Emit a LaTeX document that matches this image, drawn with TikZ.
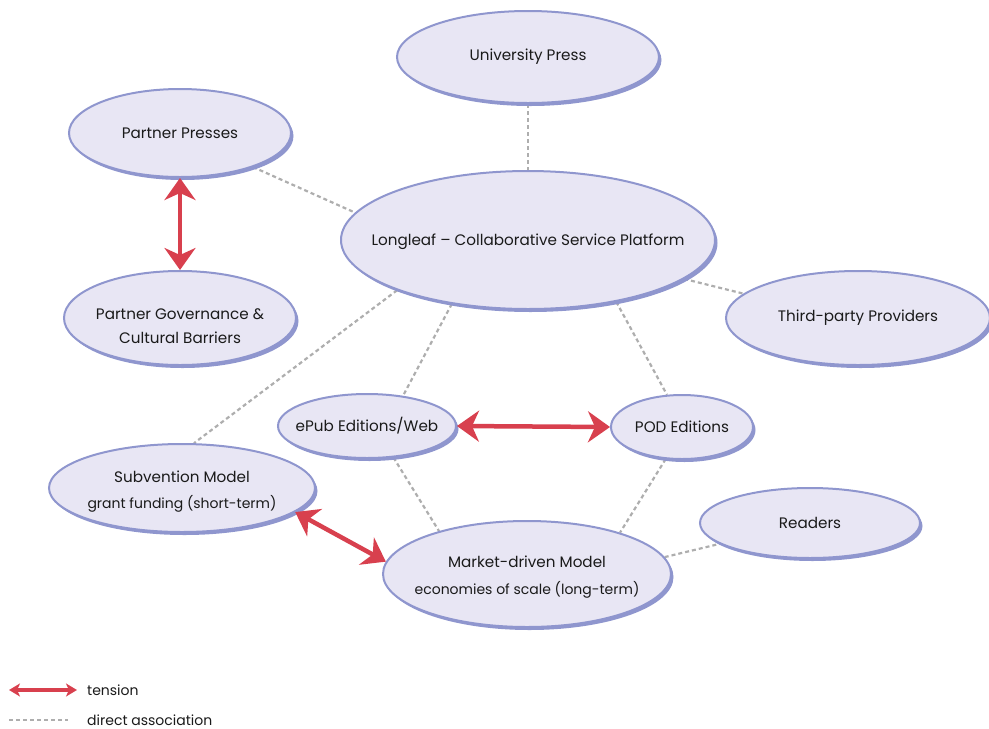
\documentclass[tikz,border=0pt]{standalone}
\usepackage{fontspec}
\setmainfont{Poppins}
\usetikzlibrary{shapes.geometric, arrows.meta, shadows, backgrounds}
\definecolor{ovalfill}{HTML}{E8E6F4}
\definecolor{ovalrim}{HTML}{8F96CE}
\definecolor{tensionred}{HTML}{D8404E}
\definecolor{linkgray}{HTML}{AEAEAE}
\definecolor{textblack}{HTML}{1A1A1A}
\newcommand*\ovalsub[1]{{\fontsize{14}{17}\selectfont #1}}
\tikzset{
  oval/.style={ellipse, fill=ovalfill, draw=ovalrim, line width=2pt, inner sep=0pt,
    drop shadow={shadow xshift=2.5pt, shadow yshift=-3pt, fill=ovalrim, opacity=1}},
  ovallabel/.style={text=textblack, align=center, inner sep=0pt,
    font=\fontsize{15.2}{18}\selectfont},
  tensionarrow/.style={tensionred, line width=4.5pt,
    {Stealth[length=22pt, width=31pt, inset=7pt]}-{Stealth[length=22pt, width=31pt, inset=7pt]}},
  smalltension/.style={tensionred, line width=4pt,
    {Stealth[length=11pt, width=13pt, inset=3pt]}-{Stealth[length=11pt, width=13pt, inset=3pt]}},
  link/.style={linkgray, line width=2.2pt, dash pattern=on 4pt off 3pt},
}

\begin{document}
\begin{tikzpicture}[x=1pt, y=-1pt]
    \useasboundingbox (0,0) rectangle (989,729);
    \coordinate (posUniv) at (528,57);
    \coordinate (posPresses) at (180,133);
    \coordinate (posLongleaf) at (528,240);
    \coordinate (posGovern) at (180,318);
    \coordinate (posThird) at (858,318);
    \coordinate (posEpub) at (367,426);
    \coordinate (posPod) at (682,427);
    \coordinate (posSubv) at (182,488);
    \coordinate (posReaders) at (810,523);
    \coordinate (posMarket) at (527,574);
    %
    \node[oval, minimum width=262pt, minimum height=92pt, label={[ovallabel]center:University Press}] at (posUniv) (univ) {};
    \node[oval, minimum width=222pt, minimum height=88pt, label={[ovallabel]center:Partner Presses}] at (posPresses) (presses) {};
    \node[oval, minimum width=374pt, minimum height=138pt, label={[ovallabel, yshift=-1.5pt]center:Longleaf -- Collaborative Service Platform}] at (posLongleaf) (longleaf) {};
    \node[oval, minimum width=232pt, minimum height=94pt, label={[ovallabel, yshift=-8pt]center:Partner Governance \&\\[6pt]Cultural Barriers}] at (posGovern) (govern) {};
    \node[oval, minimum width=264pt, minimum height=94pt, label={[ovallabel]center:Third-party Providers}] at (posThird) (third) {};
    \node[oval, minimum width=178pt, minimum height=64pt, label={[ovallabel]center:ePub Editions/Web}] at (posEpub) (epub) {};
    \node[oval, minimum width=142pt, minimum height=64pt, label={[ovallabel]center:POD Editions}] at (posPod) (pod) {};
    \node[oval, minimum width=266pt, minimum height=88pt, label={[ovallabel, yshift=-4pt]center:Subvention Model\\[8pt]\ovalsub{grant funding (short-term)}}] at (posSubv) (subv) {};
    \node[oval, minimum width=220pt, minimum height=70pt, label={[ovallabel]center:Readers}] at (posReaders) (readers) {};
    \node[oval, minimum width=288pt, minimum height=106pt, label={[ovallabel, yshift=-3pt]center:Market-driven Model\\[9pt]\ovalsub{economies of scale (long-term)}}] at (posMarket) (market) {};
    %
    % associations behind the ovals
    \begin{pgfonlayer}{background}
    \draw[link] (univ.270) -- (longleaf.90);
    \draw[link] (presses.335) -- (longleaf.171);
    \draw[link] (longleaf.346) -- (third.168);
    \draw[link] (longleaf.201) -- (subv.75);
    \draw[link] (longleaf.220) -- (epub.40);
    \draw[link] (longleaf.325) -- (pod.115);
    \draw[link] (epub.310) -- (market.154);
    \draw[link] (pod.243) -- (market.24);
    \draw[link] (market.7) -- (readers.193);
    \end{pgfonlayer}
    %
    \draw[tensionarrow] (presses.south) -- (govern.north);
    \draw[tensionarrow] (epub.east) -- (pod.west);
    \draw[tensionarrow] (subv.348) -- (market.175);
    %
    % legend
    \coordinate (tensionL) at (9,690);
    \coordinate (tensionR) at (77,690);
    \coordinate (linkL) at (9,720);
    \coordinate (linkR) at (68,720);
    \node[anchor=west, text=textblack, inner sep=0pt] at (87,690) (tensionlbl) {\ovalsub{tension}};
    \node[anchor=west, text=textblack, inner sep=0pt] at (87,720) (linklbl) {\ovalsub{direct association}};
    \draw[smalltension] (tensionL) -- (tensionR);
    \draw[link] (linkL) -- (linkR);
\end{tikzpicture}
\end{document}
